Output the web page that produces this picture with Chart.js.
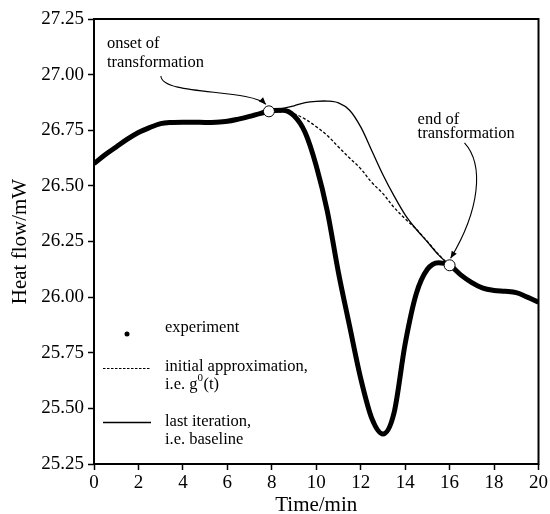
<!DOCTYPE html>
<html>
<head>
<meta charset="utf-8">
<script src="https://cdn.jsdelivr.net/npm/chart.js@4.4.0/dist/chart.umd.min.js"></script>
<style>
  html, body { margin: 0; padding: 0; background: #fff; }
</style>
</head>
<body>
<canvas id="dsc" width="550" height="514"></canvas>
<script>
// measured DSC signal, sampled every half minute
const timeMin = [0, 0.5, 1, 1.5, 2, 2.5, 3, 3.5, 4, 4.5, 5, 5.5, 6, 6.5, 7, 7.5, 8, 8.5, 9, 9.5,
  10, 10.5, 11, 11.5, 12, 12.5, 13, 13.5, 14, 14.5, 15, 15.5, 16, 16.5, 17, 17.5, 18, 18.5, 19, 19.5, 20];
const heatFlow = [26.600, 26.640, 26.675, 26.710, 26.740, 26.762, 26.780, 26.785, 26.786, 26.786,
  26.785, 26.786, 26.790, 26.800, 26.812, 26.826, 26.838, 26.840, 26.815, 26.740,
  26.590, 26.385, 26.110, 25.870, 25.635, 25.455, 25.385, 25.480, 25.790, 26.015,
  26.125, 26.155, 26.143, 26.100, 26.065, 26.040, 26.030, 26.026, 26.020, 26.000, 25.977];

// baseline between onset and end of transformation
const baseTime = [7.87, 8.5, 9, 9.5, 10, 10.5, 11, 11.5, 12, 12.5, 13, 13.5, 14, 14.5, 15, 15.5, 16];
const approxFlow = [26.835, 26.832, 26.824, 26.800, 26.766, 26.726, 26.675, 26.625, 26.577,
  26.515, 26.465, 26.403, 26.352, 26.305, 26.250, 26.192, 26.143];
const baselineFlow = [26.835, 26.848, 26.860, 26.874, 26.880, 26.881, 26.873, 26.840, 26.765,
  26.658, 26.550, 26.455, 26.370, 26.305, 26.248, 26.190, 26.143];

// onset and end of transformation
const markerTime = [7.87, 16.0];
const markerFlow = [26.835, 26.143];

const xTicks = [0, 2, 4, 6, 8, 10, 12, 14, 16, 18, 20];
const yTicks = [25.25, 25.5, 25.75, 26.0, 26.25, 26.5, 26.75, 27.0, 27.25];

const serif = '"Liberation Serif", "Times New Roman", serif';
const pts = (xs, ys) => xs.map((x, i) => ({ x: x, y: ys[i] }));

function arrowHead(ctx, fx, fy, x, y) {
  const a = Math.atan2(y - fy, x - fx);
  const len = 7, half = 3;
  ctx.beginPath();
  ctx.moveTo(x, y);
  ctx.lineTo(x - len * Math.cos(a) + half * Math.sin(a), y - len * Math.sin(a) - half * Math.cos(a));
  ctx.lineTo(x - len * Math.cos(a) - half * Math.sin(a), y - len * Math.sin(a) + half * Math.cos(a));
  ctx.closePath();
  ctx.fill();
}

function curvedArrow(ctx, sx, sy, c1x, c1y, c2x, c2y, ex, ey) {
  ctx.beginPath();
  ctx.moveTo(sx, sy);
  ctx.bezierCurveTo(c1x, c1y, c2x, c2y, ex, ey);
  ctx.stroke();
  arrowHead(ctx, c2x, c2y, ex, ey);
}

const extras = {
  id: 'extras',
  afterDatasetsDraw(chart) {
    const ctx = chart.ctx;
    const a = chart.chartArea;
    const xs = chart.scales.x, ys = chart.scales.y;
    const px = v => xs.getPixelForValue(v);
    const py = v => ys.getPixelForValue(v);
    ctx.save();

    // frame around the plot
    ctx.strokeStyle = '#000';
    ctx.lineWidth = 2;
    ctx.strokeRect(a.left, a.top, a.right - a.left, a.bottom - a.top);

    // annotations
    ctx.fillStyle = '#000';
    ctx.font = '16.5px ' + serif;
    ctx.textBaseline = 'alphabetic';
    ctx.textAlign = 'left';
    ctx.fillText('onset of', px(0.58), py(27.12));
    ctx.fillText('transformation', px(0.58), py(27.035));
    ctx.fillText('end of', px(14.56), py(26.78));
    ctx.fillText('transformation', px(14.56), py(26.715));

    ctx.lineWidth = 1.1;
    let sx = px(3.01), sy = py(26.994);
    let ex = px(markerTime[0]) - 3, ey = py(markerFlow[0]) - 7;
    curvedArrow(ctx, sx, sy, sx + 1, sy + 20, ex - 16, ey - 16, ex, ey);

    sx = px(16.67); sy = py(26.693);
    ex = px(markerTime[1]) + 1; ey = py(markerFlow[1]) - 7;
    curvedArrow(ctx, sx, sy, sx + 20, sy + 22, ex + 29, ey - 48, ex, ey);

    // legend
    const lx = a.left;
    ctx.beginPath();
    ctx.arc(lx + 33, 334, 2.5, 0, Math.PI * 2);
    ctx.fill();
    ctx.textBaseline = 'middle';
    ctx.fillText('experiment', lx + 71, 328);

    ctx.lineWidth = 1.2;
    ctx.setLineDash([2.5, 1.5]);
    ctx.beginPath();
    ctx.moveTo(lx + 9, 368.5);
    ctx.lineTo(lx + 57, 368.5);
    ctx.stroke();
    ctx.setLineDash([]);
    ctx.fillText('initial approximation,', lx + 71, 367);
    const lead = 'i.e. g';
    ctx.fillText(lead, lx + 71, 385);
    let w = ctx.measureText(lead).width;
    ctx.font = '11px ' + serif;
    ctx.fillText('0', lx + 71 + w, 378);
    w += ctx.measureText('0').width;
    ctx.font = '16.5px ' + serif;
    ctx.fillText('(t)', lx + 71 + w + 0.5, 385);

    ctx.lineWidth = 1.4;
    ctx.beginPath();
    ctx.moveTo(lx + 9, 422.5);
    ctx.lineTo(lx + 57, 422.5);
    ctx.stroke();
    ctx.fillText('last iteration,', lx + 71, 422);
    ctx.fillText('i.e. baseline', lx + 71, 440);

    ctx.restore();
  }
};

new Chart(document.getElementById('dsc'), {
  type: 'line',
  data: {
    datasets: [
      {
        label: 'markers',
        data: pts(markerTime, markerFlow),
        showLine: false,
        pointRadius: 5.5,
        pointBackgroundColor: '#fff',
        pointBorderColor: '#000',
        pointBorderWidth: 1
      },
      {
        label: 'last iteration, i.e. baseline',
        data: pts(baseTime, baselineFlow),
        borderColor: '#000',
        borderWidth: 1.3,
        pointRadius: 0,
        tension: 0.35
      },
      {
        label: 'initial approximation, i.e. g0(t)',
        data: pts(baseTime, approxFlow),
        borderColor: '#000',
        borderWidth: 1.3,
        borderDash: [3, 2],
        pointRadius: 0,
        tension: 0.35
      },
      {
        label: 'experiment',
        data: pts(timeMin, heatFlow),
        borderColor: '#000',
        borderWidth: 5,
        pointRadius: 0,
        cubicInterpolationMode: 'monotone'
      }
    ]
  },
  options: {
    responsive: false,
    animation: false,
    devicePixelRatio: 1,
    layout: { padding: { top: 19, right: 11, left: 4, bottom: 0 } },
    plugins: { legend: { display: false }, tooltip: { enabled: false } },
    scales: {
      x: {
        type: 'linear',
        min: 0,
        max: 20,
        afterBuildTicks: s => { s.ticks = xTicks.map(v => ({ value: v })); },
        afterFit: s => { s.height = 50; },
        ticks: { color: '#000', font: { family: serif, size: 19 }, padding: 2, maxRotation: 0 },
        grid: { drawOnChartArea: false, drawTicks: true, tickLength: 6, tickWidth: 1.5, tickColor: '#000' },
        border: { display: false },
        title: { display: true, text: 'Time/min', color: '#000', font: { family: serif, size: 21 }, padding: { top: 0, bottom: -4 } }
      },
      y: {
        type: 'linear',
        min: 25.25,
        max: 27.25,
        afterBuildTicks: s => { s.ticks = yTicks.map(v => ({ value: v })); },
        afterFit: s => { s.width = 90; },
        ticks: { color: '#000', font: { family: serif, size: 19 }, padding: 4, callback: v => Number(v).toFixed(2) },
        grid: { drawOnChartArea: false, drawTicks: true, tickLength: 6, tickWidth: 1.5, tickColor: '#000' },
        border: { display: false },
        title: { display: true, text: 'Heat flow/mW', color: '#000', font: { family: serif, size: 21 }, padding: { top: 4, bottom: 0 } }
      }
    }
  },
  plugins: [extras]
});
</script>
</body>
</html>
